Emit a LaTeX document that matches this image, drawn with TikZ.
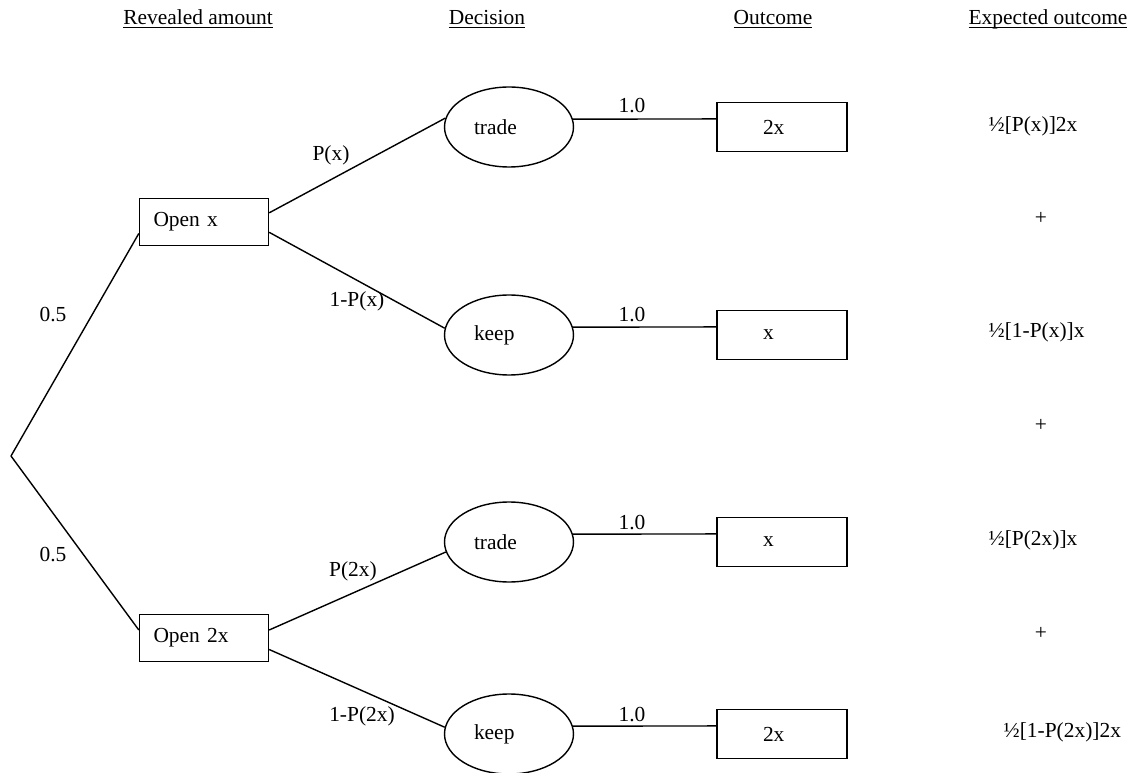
\documentclass[tikz,border=0pt]{standalone}
\usepackage{fontspec}
\setmainfont{Liberation Serif}
\usetikzlibrary{shapes.geometric}

\begin{document}
\begin{tikzpicture}[
        x=0.02cm, y=-0.02cm,
        line width=0.8pt,
        font=\fontsize{12.2}{14.6}\selectfont,
        amount/.style={draw, rectangle, text width=2.02cm, align=left, inner xsep=0.28cm, inner ysep=0pt, minimum height=0.94cm},
        choice/.style={draw, ellipse, text width=1.4cm, align=left, inner sep=0pt, minimum width=2.58cm, minimum height=1.6cm},
        result/.style={draw, rectangle, text width=0.76cm, align=left, inner xsep=0.92cm, inner ysep=0pt, minimum height=0.98cm},
        heading/.style={anchor=base},
        expect/.style={anchor=west, inner sep=0pt},
    ]
        \useasboundingbox (0,0) rectangle (1129,773);

        % Column headings
        \node[heading] (hamount) at (198,25) {\underline{\smash{Revealed amount}}};
        \node[heading] (hdecision) at (487,25) {\underline{\smash{Decision}}};
        \node[heading] (houtcome) at (773,25) {\underline{\smash{Outcome}}};
        \node[heading] (hexpected) at (1048,25) {\underline{\smash{Expected outcome}}};

        % Chance node and revealed amounts
        \coordinate (root) at (11,456);
        \node[amount] (openx) at (204,222) {Open x};
        \node[amount] (open2x) at (204,638) {Open 2x};

        % Decisions
        \node[choice] (trade1) at (509,127) {trade};
        \node[choice] (keep1) at (509,335) {keep};
        \node[choice] (trade2) at (509,542) {trade};
        \node[choice] (keep2) at (509,734) {keep};

        % Outcomes
        \node[result] (out1) at (782,127) {2x};
        \node[result] (out2) at (782,335) {x};
        \node[result] (out3) at (782,542) {x};
        \node[result] (out4) at (782,734) {2x};

        % Branches
        \draw (root) -- (openx.190);
        \draw (root) -- (open2x.173);
        \draw (openx.8) -- (trade1.172);
        \draw (openx.351) -- (keep1.174);
        \draw (open2x.7) -- (trade2.189);
        \draw (open2x.350) -- (keep2.174);
        \foreach \d/\o in {trade1/out1, keep1/out2, trade2/out3, keep2/out4}
            \draw (\d.7) -- (\o.173);

        % Branch probabilities
        \node (p1) at (53,315) {0.5};
        \node (p2) at (53,555) {0.5};
        \node (ptx) at (331,155) {P(x)};
        \node (pkx) at (357,301) {1-P(x)};
        \node (pt2x) at (353,571) {P(2x)};
        \node (pk2x) at (362,716) {1-P(2x)};
        \node (c1) at (632,106) {1.0};
        \node (c2) at (632,315) {1.0};
        \node (c3) at (632,523) {1.0};
        \node (c4) at (632,715) {1.0};

        % Expected outcome
        \node[expect] (e1) at (988,126) {½[P(x)]2x};
        \node (plus1) at (1041,218) {+};
        \node[expect] (e2) at (988,332) {½[1-P(x)]x};
        \node (plus2) at (1041,425) {+};
        \node[expect] (e3) at (988,540) {½[P(2x)]x};
        \node (plus3) at (1041,633) {+};
        \node[expect] (e4) at (1003,732) {½[1-P(2x)]2x};
    \end{tikzpicture}
\end{document}
